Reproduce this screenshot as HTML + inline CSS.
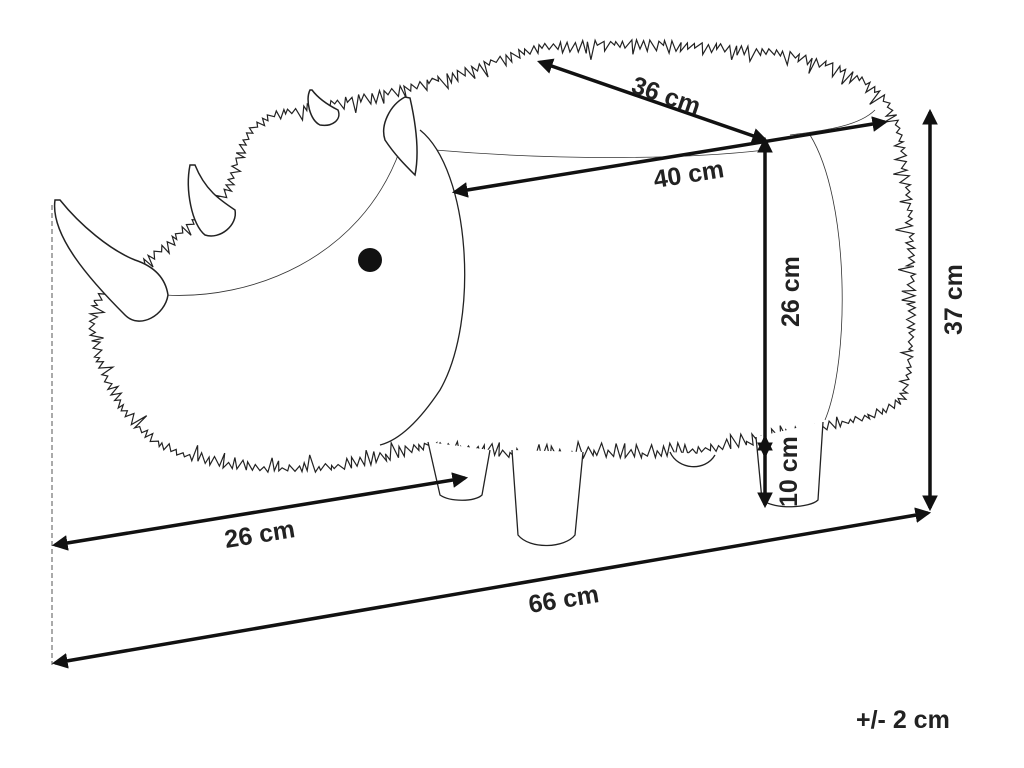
<!DOCTYPE html>
<html><head><meta charset="utf-8"><style>
html,body{margin:0;padding:0;background:#fff;width:1024px;height:768px;overflow:hidden}
svg{display:block}
text{font-family:"Liberation Sans",sans-serif;font-weight:bold;font-size:25px;fill:#222}
</style></head><body>
<svg id="s" width="1024" height="768" viewBox="0 0 1024 768" xmlns="http://www.w3.org/2000/svg">
<defs>
<marker id="ah" viewBox="0 0 10 10" refX="8" refY="5" markerWidth="4.5" markerHeight="4.5" orient="auto-start-reverse">
<path d="M0,0 L10,5 L0,10 z" fill="#111"/>
</marker>
</defs>
<path id="base" d="M95,300 C80,340 110,400 130,420 C160,460 230,475 320,470 C380,465 420,450 430,445 C480,455 540,460 600,455 C660,460 720,450 770,440 C820,430 880,420 905,400 C920,330 915,200 900,130 C890,90 860,70 800,55 C720,42 620,38 540,45 C500,55 470,70 430,80 C380,95 330,100 290,110 C250,115 240,140 230,180 C220,200 190,220 170,240 C150,260 110,280 95,300" fill="none" stroke="none"/>
<path id="fur" fill="none" stroke="#222" stroke-width="1.2" stroke-linejoin="miter"/>
<path d="M165,295 C250,300 360,260 400,150" fill="none" stroke="#333" stroke-width="0.8"/>
<path d="M435,150 C550,160 680,160 765,150" fill="none" stroke="#333" stroke-width="0.8"/>
<path d="M790,135 C830,130 860,125 875,110" fill="none" stroke="#333" stroke-width="0.8"/>
<path d="M810,135 C850,200 850,360 825,420" fill="none" stroke="#333" stroke-width="0.8"/>
<path d="M420,130 C470,170 480,320 440,390 C420,420 400,440 380,445" fill="#fff" stroke="#222" stroke-width="1.3"/>
<circle cx="370" cy="260" r="12" fill="#111"/>
<path d="M55,200 C50,235 90,280 125,315 C140,330 165,315 168,295 C165,275 150,265 135,260 C110,250 80,225 60,200 Z" fill="#fff" stroke="#222" stroke-width="1.5"/>
<path d="M190,165 C185,190 192,225 205,235 C220,240 238,225 235,210 C220,200 205,190 195,165 Z" fill="#fff" stroke="#222" stroke-width="1.5"/>
<path d="M310,90 C305,100 310,120 320,125 C332,127 342,120 338,110 C328,105 318,98 312,90 Z" fill="#fff" stroke="#222" stroke-width="1.5"/>
<path d="M405,97 C390,105 380,125 385,140 C395,155 405,165 415,175 C420,150 415,120 410,98 Z" fill="#fff" stroke="#222" stroke-width="1.5"/>
<g fill="#fff" stroke="#222" stroke-width="1.3">
<path d="M428,442 L440,495 C450,502 475,502 482,495 L490,450"/>
<path d="M512,450 L518,535 C530,550 565,548 575,535 L583,452"/>
<path d="M670,452 C678,470 705,472 715,455"/>
<path d="M756,437 L762,500 C775,510 810,508 818,500 L823,422"/>
</g>
<line x1="52" y1="205" x2="52" y2="665" stroke="#555" stroke-width="1" stroke-dasharray="5,3"/>
<g stroke="#111" stroke-width="3.5" marker-start="url(#ah)" marker-end="url(#ah)">
<line x1="540" y1="62" x2="765" y2="140"/>
<line x1="455" y1="192" x2="885" y2="122"/>
<line x1="765" y1="140" x2="765" y2="455"/>
<line x1="765" y1="438" x2="765" y2="505"/>
<line x1="930" y1="112" x2="930" y2="508"/>
<line x1="55" y1="545" x2="465" y2="478"/>
<line x1="55" y1="663" x2="928" y2="513"/>
</g>
<text transform="translate(630,92) rotate(19)">36 cm</text>
<text transform="translate(655,188) rotate(-9)">40 cm</text>
<text transform="translate(799,327) rotate(-90)">26 cm</text>
<text transform="translate(797,507) rotate(-90)">10 cm</text>
<text transform="translate(962,335) rotate(-90)">37 cm</text>
<text transform="translate(226,548) rotate(-9)">26 cm</text>
<text transform="translate(530,613) rotate(-9)">66 cm</text>
<text x="856" y="728">+/- 2 cm</text>
</svg>
<script>
(function(){
var p=document.getElementById('base'),L=p.getTotalLength(),seed=7;
function r(){seed=(seed*16807)%2147483647;return seed/2147483647;}
var d='',step=3.5,i=0;
for(var s=0;s<L;s+=step,i++){
 var a=p.getPointAtLength(s),b=p.getPointAtLength(Math.min(L,s+1));
 var tx=b.x-a.x,ty=b.y-a.y,n=Math.hypot(tx,ty)||1;tx/=n;ty/=n;
 var nx=ty,ny=-tx;
 var o=(i%2)?(3+r()*r()*16):(-2*r());
 var j=(r()-0.5)*4;
 var x=a.x+nx*o+tx*j,y=a.y+ny*o+ty*j;
 d+=(s?'L':'M')+x.toFixed(1)+','+y.toFixed(1);
}
document.getElementById('fur').setAttribute('d',d+'Z');
})();
</script>
</body></html>
